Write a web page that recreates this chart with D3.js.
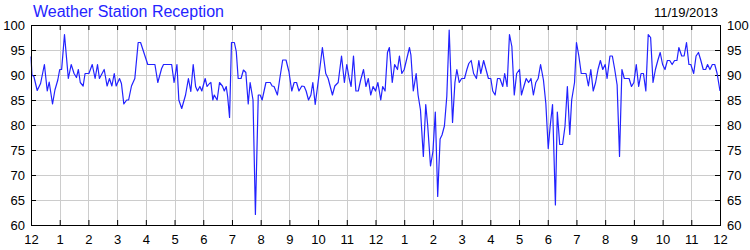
<!DOCTYPE html>
<html>
<head>
<meta charset="utf-8">
<script src="https://cdn.jsdelivr.net/npm/d3@7"></script>
<style>
  html, body { margin: 0; padding: 0; background: #fff; }
  svg { display: block; }
</style>
</head>
<body>
<div id="chart"></div>
<script>
// ---- data (minutes since midnight, signal %) ----
const titleText = "Weather Station Reception";
const dateText = "11/19/2013";
const minutes = [
  0,2,6,13,20,28,34,38,45,50,56,60,64,70,78,84,90,95,99,103,109,113,121,128,134,139,143,153,159,164,169,174,178,185,189,194,200,204,210,217,224,229,242,244,259,265,273,277,294,299,305,309,315,323,329,334,339,344,348,353,357,364,368,373,376,380,383,389,394,400,404,408,411,415,419,425,429,433,439,444,449,454,458,464,469,475,479,483,491,500,504,508,515,520,526,533,539,545,550,555,560,566,571,575,580,585,589,594,600,609,616,621,630,635,642,649,655,660,665,669,674,679,684,689,695,700,705,710,715,720,725,731,735,740,745,749,755,760,766,770,775,780,791,794,799,805,809,814,820,825,829,835,840,845,850,855,859,864,869,874,881,886,890,895,900,906,911,915,920,925,931,936,940,946,951,956,961,965,970,975,980,986,990,995,1000,1005,1010,1015,1021,1025,1030,1035,1040,1045,1050,1055,1060,1065,1071,1076,1081,1085,1090,1096,1100,1105,1111,1116,1121,1126,1130,1136,1140,1145,1150,1160,1165,1170,1175,1180,1185,1190,1195,1200,1204,1210,1215,1220,1225,1230,1235,1240,1250,1255,1260,1265,1270,1275,1280,1285,1290,1295,1300,1305,1310,1315,1320,1325,1330,1335,1340,1345,1350,1354,1360,1365,1370,1375,1379,1385,1390,1395,1400,1405,1410,1414,1419,1424,1429,1434,1440
];
const reception = [
  93.7,90,89.7,86.9,88.3,92.1,86.8,88.6,84.2,87,89,91.1,91.1,98.1,89.3,92.1,90.3,89.5,91.1,88.5,87.8,90.3,90.3,92.1,89.3,92.1,89.3,91.1,87.8,89.3,87.8,90.3,87.8,89.3,88.3,84.2,85,85,87.8,89.3,96.5,96.5,92.7,92.1,92.1,88.5,91.3,92.1,92.1,88.5,92.1,85,83.3,86,89.3,86.7,92.1,87.7,86.8,87.7,86.8,89.3,87.7,88.3,88.5,85,86,85,88.5,87.8,86.8,87.7,85.7,81.5,96.5,96.5,94.7,89.3,89.3,91,90.5,84.2,88.5,85,62.1,86,86,85,88.5,88.5,87.8,87.7,86,89.3,93,93,90.7,86.8,88.5,88.5,86.8,87.8,87.7,86.8,85,86,88.5,84.1,88.5,95.5,90.3,89.3,86,87.8,88.5,93.8,88.5,92.1,89.3,87.7,93.8,86.8,86.8,89,91.1,87.7,89.3,86,87.7,86.8,88.5,85,87.7,86.8,94.5,95.5,88.5,92.1,91.1,93.8,90.3,91.1,95.5,94,86.8,90.3,86,83,73.7,84.1,80,71.8,74.7,82.6,65.7,77.2,78,79.8,85.7,99,80.5,88.5,91.1,88.5,89.3,89.3,91.1,92.3,92.9,90.3,89.3,92.9,90.3,92.9,91.1,89.3,89.3,86.8,86,89.3,89.3,87.7,90.3,87.7,98.1,95.7,86,90.3,91.1,86,87.7,89.3,88.5,89.3,86,88.5,89.3,92.1,89,84.3,75.3,79.7,84.1,64,82.6,76.1,76.1,79.7,87.7,78.1,85,88.5,96.5,93.8,90.3,90.3,87.8,91.1,86.8,88.5,91.1,92.9,91.1,92.1,89.3,93.8,93.8,91.1,88,73.7,91.1,89.3,89.3,87.7,88.5,92.1,87.7,90.3,90.3,86.8,98.1,97.5,88.5,91.1,92.9,94.5,92.1,91.1,92.9,92.9,92.1,92.9,92.9,95.5,93.8,93.8,96.5,92.1,92.1,90.3,93.8,94.5,92.9,91.1,91.1,92.1,91.1,92.1,92.1,90.3,86.8
];
const xTickHours = d3.range(0, 25);
const xTickLabels = ["12","1","2","3","4","5","6","7","8","9","10","11","12","1","2","3","4","5","6","7","8","9","10","11","12"];
const yTicks = [60,65,70,75,80,85,90,95,100];

// ---- layout ----
const W = 750, H = 250;
const plotL = 31, plotR = 720, plotT = 25, plotB = 225;

const svg = d3.select("#chart").append("svg")
  .attr("width", W).attr("height", H);

const x = d3.scaleLinear().domain([0, 24]).range([plotL, plotR]);
const y = d3.scaleLinear().domain([60, 100]).range([plotB, plotT]);

const font = "'Liberation Sans', Arial, sans-serif";

// grid
const grid = svg.append("g").attr("shape-rendering", "crispEdges");
grid.selectAll(".vg").data(xTickHours.slice(1, -1)).join("line")
  .attr("x1", d => Math.round(x(d)) + 0.5).attr("x2", d => Math.round(x(d)) + 0.5)
  .attr("y1", plotT).attr("y2", plotB)
  .attr("stroke", "#cccccc").attr("stroke-width", 1);
grid.selectAll(".hg").data(yTicks.slice(1, -1)).join("line")
  .attr("x1", plotL).attr("x2", plotR)
  .attr("y1", d => Math.round(y(d)) + 0.5).attr("y2", d => Math.round(y(d)) + 0.5)
  .attr("stroke", "#cccccc").attr("stroke-width", 1);

// axes with inward ticks
function styleAxis(g) {
  g.select(".domain").remove();
  g.selectAll(".tick line").attr("stroke", "#000");
  g.selectAll(".tick text").attr("fill", "#000")
    .style("font-family", font).style("font-size", "13px");
}
const xFmt = (d, i) => xTickLabels[i];

svg.append("g").attr("transform", `translate(0,${plotB})`)
  .call(d3.axisBottom(x).tickValues(xTickHours).tickFormat(xFmt).tickSizeInner(-5).tickSizeOuter(0).tickPadding(10))
  .call(styleAxis);
svg.append("g").attr("transform", `translate(0,${plotT})`)
  .call(d3.axisTop(x).tickValues(xTickHours).tickFormat("").tickSizeInner(-5).tickSizeOuter(0))
  .call(styleAxis);
svg.append("g").attr("transform", `translate(${plotL},0)`)
  .call(d3.axisLeft(y).tickValues(yTicks).tickSizeInner(-5).tickSizeOuter(0).tickPadding(6))
  .call(styleAxis);
svg.append("g").attr("transform", `translate(${plotR},0)`)
  .call(d3.axisRight(y).tickValues(yTicks).tickSizeInner(-5).tickSizeOuter(0).tickPadding(7))
  .call(styleAxis);

// data line
const pts = minutes.map((m, i) => [m / 60, reception[i]]);
svg.append("path")
  .datum(pts)
  .attr("fill", "none")
  .attr("stroke", "#2222ff")
  .attr("stroke-width", 1.2)
  .attr("stroke-linejoin", "round")
  .attr("d", d3.line().x(d => x(d[0])).y(d => y(d[1])));

// border
svg.append("rect")
  .attr("x", plotL + 0.5).attr("y", plotT + 0.5)
  .attr("width", plotR - plotL).attr("height", plotB - plotT)
  .attr("fill", "none").attr("stroke", "#000").attr("stroke-width", 1)
  .attr("shape-rendering", "crispEdges");

// title & date
svg.append("text").attr("x", 33).attr("y", 17)
  .style("font-family", font).style("font-size", "16px")
  .attr("fill", "#2424ff").text(titleText);
svg.append("text").attr("x", 718).attr("y", 17).attr("text-anchor", "end")
  .style("font-family", font).style("font-size", "13px")
  .attr("fill", "#000").text(dateText);
</script>
</body>
</html>
